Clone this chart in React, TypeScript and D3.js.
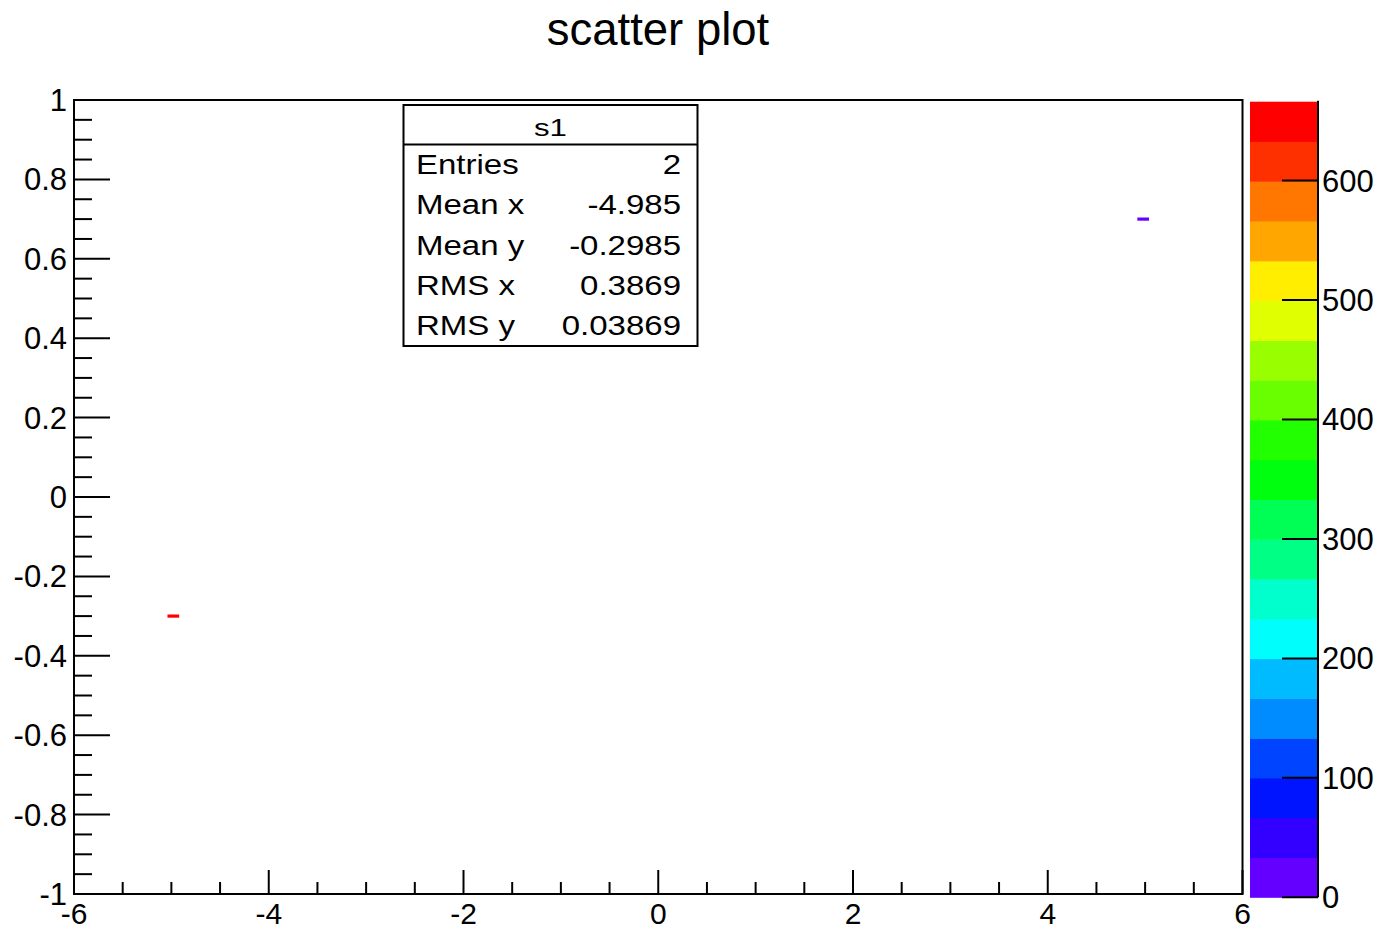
import React, { useEffect, useRef } from 'react';
import * as d3 from 'd3';

// histogram definition (TH2 with COLZ)
const xRange = [-6, 6];
const yRange = [-1, 1];
const xBins = 100;
const yBins = 250;

// filled points: x, y, weight
const pointX = [-5, 5];
const pointY = [-0.3, 0.7];
const pointW = [666, 1];

const statLabels = ['Entries', 'Mean x', 'Mean y', 'RMS x', 'RMS y'];
const zTicks = [0, 100, 200, 300, 400, 500, 600];
const nLevels = 20;

const FONT = '"Liberation Sans", Arial, Helvetica, sans-serif';

// ROOT "pretty" palette: 50 hues from violet to red
const paletteColor = (level: number) => {
    const idx = Math.floor((level + 0.99) * 50 / nLevels);
    const hue = 280 - (idx + 1) * (280 / 50);
    return d3.hsl(hue, 1, 0.5).formatHex();
};

const App = () => {
    const ref = useRef<SVGSVGElement>(null);

    useEffect(() => {
        const width = 1381;
        const height = 930;
        const frame = { left: 74, right: 1242.5, top: 100, bottom: 894 };

        const svg = d3.select(ref.current);
        svg.selectAll('*').remove();
        svg.attr('width', width).attr('height', height);

        svg.append('rect').attr('width', width).attr('height', height).attr('fill', 'white');

        const x = d3.scaleLinear().domain(xRange).range([frame.left, frame.right]);
        const y = d3.scaleLinear().domain(yRange).range([frame.bottom, frame.top]);
        const zMax = d3.max(pointW) as number;
        const z = d3.scaleLinear().domain([0, zMax]).range([897.3, 101.7]);

        // title
        svg.append('text')
            .attr('x', 658)
            .attr('y', 45)
            .attr('text-anchor', 'middle')
            .style('font-family', FONT)
            .style('font-size', '45.5px')
            .text('scatter plot');

        // cells
        const bw = (xRange[1] - xRange[0]) / xBins;
        const bh = (yRange[1] - yRange[0]) / yBins;
        const cells = pointX.map((px, i) => {
            const ix = Math.floor((px - xRange[0]) / bw);
            const iy = Math.floor((pointY[i] - yRange[0]) / bh);
            const level = Math.min(nLevels - 1, Math.floor(pointW[i] / zMax * nLevels));
            return {
                x0: xRange[0] + ix * bw,
                y0: yRange[0] + iy * bh,
                color: paletteColor(level),
            };
        });
        svg.selectAll('.cell')
            .data(cells)
            .enter()
            .append('rect')
            .attr('class', 'cell')
            .attr('x', d => x(d.x0))
            .attr('y', d => y(d.y0 + bh))
            .attr('width', d => x(d.x0 + bw) - x(d.x0))
            .attr('height', d => y(d.y0) - y(d.y0 + bh))
            .attr('fill', d => d.color);

        // frame
        svg.append('rect')
            .attr('x', frame.left)
            .attr('y', frame.top)
            .attr('width', frame.right - frame.left)
            .attr('height', frame.bottom - frame.top)
            .attr('fill', 'none')
            .attr('stroke', 'black')
            .attr('stroke-width', 2);

        const ticks = svg.append('g').attr('stroke', 'black').attr('stroke-width', 2);

        // y ticks
        y.ticks(40).forEach(t => {
            const major = y.ticks(10).some(m => Math.abs(m - t) < 1e-9);
            ticks.append('line')
                .attr('x1', frame.left).attr('x2', frame.left + (major ? 36 : 18))
                .attr('y1', y(t)).attr('y2', y(t));
        });
        // x ticks
        x.ticks(24).forEach(t => {
            const major = x.ticks(6).some(m => Math.abs(m - t) < 1e-9);
            ticks.append('line')
                .attr('x1', x(t)).attr('x2', x(t))
                .attr('y1', frame.bottom).attr('y2', frame.bottom - (major ? 24 : 12));
        });

        const fmt = (v: number) => String(+v.toFixed(2));

        svg.append('g')
            .selectAll('text')
            .data(y.ticks(10))
            .enter()
            .append('text')
            .attr('x', 67)
            .attr('y', d => y(d) + 11)
            .attr('text-anchor', 'end')
            .style('font-family', FONT)
            .style('font-size', '31px')
            .text(fmt);

        svg.append('g')
            .selectAll('text')
            .data(x.ticks(6))
            .enter()
            .append('text')
            .attr('x', d => x(d))
            .attr('y', 924)
            .attr('text-anchor', 'middle')
            .style('font-family', FONT)
            .style('font-size', '30px')
            .text(fmt);

        // colour palette
        const bar = { left: 1250, right: 1318 };
        const levels = d3.range(nLevels);
        svg.selectAll('.band')
            .data(levels)
            .enter()
            .append('rect')
            .attr('class', 'band')
            .attr('x', bar.left)
            .attr('y', d => z((d + 1) * zMax / nLevels))
            .attr('width', bar.right - bar.left)
            .attr('height', d => z(d * zMax / nLevels) - z((d + 1) * zMax / nLevels) + 0.5)
            .attr('fill', d => paletteColor(d));

        svg.append('line')
            .attr('x1', bar.right).attr('x2', bar.right)
            .attr('y1', z(zMax) - 1).attr('y2', z(0))
            .attr('stroke', 'black').attr('stroke-width', 2);

        zTicks.forEach(t => {
            svg.append('line')
                .attr('x1', bar.right - 36).attr('x2', bar.right)
                .attr('y1', z(t)).attr('y2', z(t))
                .attr('stroke', 'black').attr('stroke-width', 2);
            svg.append('text')
                .attr('x', 1322)
                .attr('y', z(t) + 11)
                .style('font-family', FONT)
                .style('font-size', '31px')
                .text(t);
        });

        // stats box
        const sumW = d3.sum(pointW);
        const meanX = d3.sum(pointX, (v, i) => v * pointW[i]) / sumW;
        const meanY = d3.sum(pointY, (v, i) => v * pointW[i]) / sumW;
        const rmsX = Math.sqrt(d3.sum(pointX, (v, i) => v * v * pointW[i]) / sumW - meanX * meanX);
        const rmsY = Math.sqrt(d3.sum(pointY, (v, i) => v * v * pointW[i]) / sumW - meanY * meanY);
        const statValues = [String(pointX.length), meanX.toPrecision(4), meanY.toPrecision(4), rmsX.toPrecision(4), rmsY.toPrecision(4)];

        const box = { left: 403.5, right: 697.5, top: 105, sep: 144.5, bottom: 346 };
        const stats = svg.append('g');
        stats.append('rect')
            .attr('x', box.left).attr('y', box.top)
            .attr('width', box.right - box.left).attr('height', box.bottom - box.top)
            .attr('fill', 'white').attr('stroke', 'black').attr('stroke-width', 2);
        stats.append('line')
            .attr('x1', box.left).attr('x2', box.right)
            .attr('y1', box.sep).attr('y2', box.sep)
            .attr('stroke', 'black').attr('stroke-width', 2);
        stats.append('text')
            .attr('transform', `translate(${(box.left + box.right) / 2},136) scale(1.3,1)`)
            .attr('text-anchor', 'middle')
            .style('font-family', FONT)
            .style('font-size', '24px')
            .text('s1');

        const rowH = (box.bottom - box.sep) / statLabels.length;
        statLabels.forEach((label, i) => {
            const base = box.sep + rowH * (i + 0.5) + 9.5;
            stats.append('text')
                .attr('transform', `translate(416,${base}) scale(1.2,1)`)
                .style('font-family', FONT)
                .style('font-size', '27.5px')
                .text(label);
            stats.append('text')
                .attr('transform', `translate(681,${base}) scale(1.2,1)`)
                .attr('text-anchor', 'end')
                .style('font-family', FONT)
                .style('font-size', '27.5px')
                .text(statValues[i]);
        });
    }, []);

    return <svg ref={ref} style={{ position: 'absolute', left: 0, top: 0, display: 'block' }}></svg>;
};

export default App;
